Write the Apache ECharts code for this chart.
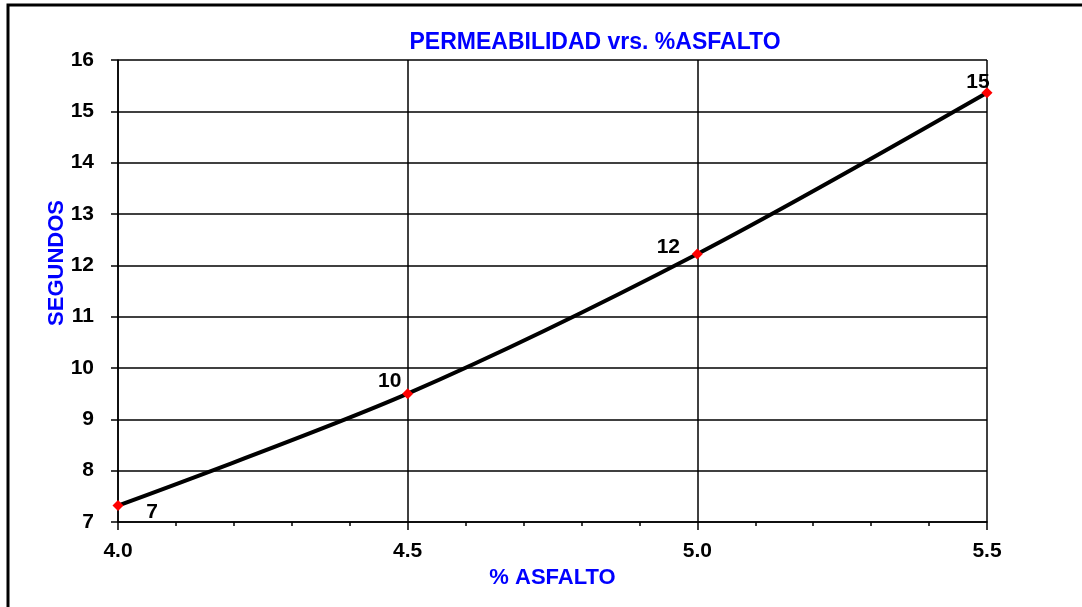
<!DOCTYPE html>
<html>
<head>
<meta charset="utf-8">
<style>
  html, body { margin: 0; padding: 0; background: #fff; }
  #chart { width: 1082px; height: 607px; }
</style>
<script src="https://cdn.jsdelivr.net/npm/echarts@6/dist/echarts.min.js"></script>
</head>
<body>
<div id="chart"></div>
<script>
// Asphalt content (%) and measured permeability time (seconds)
const asfalto = [4.0, 4.5, 5.0, 5.5];
const segundos = [7.32, 9.5, 12.22, 15.36];
const xTicks = [4.0, 4.5, 5.0, 5.5];
const yTicks = [7, 8, 9, 10, 11, 12, 13, 14, 15, 16];

const FONT = '"Liberation Sans", Arial, sans-serif';

// per-point label offsets around each marker
const labelOffsets = [[34, 7], [-18, -12], [-29, -7], [-9, -11]];

const points = asfalto.map((x, i) => ({
  value: [x, segundos[i]],
  label: {
    show: true,
    position: 'inside',
    offset: labelOffsets[i],
    formatter: p => String(Math.round(p.value[1])),
    color: '#000',
    fontFamily: FONT,
    fontSize: 21,
    fontWeight: 'bold'
  }
}));

const chart = echarts.init(document.getElementById('chart'), null, { renderer: 'canvas' });

chart.setOption({
  animation: false,
  backgroundColor: '#fff',
  title: {
    text: 'PERMEABILIDAD vrs. %ASFALTO',
    left: 590,
    textAlign: 'center',
    top: 26,
    textStyle: { color: '#0000FF', fontFamily: FONT, fontSize: 23, fontWeight: 'bold' }
  },
  graphic: [
    {
      type: 'rect',
      shape: { x: 8, y: 5, width: 1200, height: 800 },
      style: { fill: 'none', stroke: '#000', lineWidth: 3 },
      silent: true
    },
    {
      type: 'text',
      x: 57, y: 263,
      rotation: Math.PI / 2,
      style: {
        text: 'SEGUNDOS',
        fill: '#0000FF',
        font: 'bold 22px ' + FONT,
        align: 'center',
        verticalAlign: 'middle'
      }
    }
  ],
  grid: { left: 118, right: 95, top: 60, bottom: 85 },
  xAxis: {
    type: 'value',
    min: xTicks[0],
    max: xTicks[xTicks.length - 1],
    interval: 0.5,
    name: '% ASFALTO',
    nameLocation: 'middle',
    nameGap: 44,
    nameTextStyle: { color: '#0000FF', fontFamily: FONT, fontSize: 22, fontWeight: 'bold' },
    axisLine: { show: true, lineStyle: { color: '#000', width: 1.5 } },
    axisTick: { show: true, length: 8, lineStyle: { color: '#000', width: 1.5 } },
    minorTick: { show: true, splitNumber: 5, length: 4, lineStyle: { color: '#000', width: 1.5 } },
    axisLabel: {
      margin: 19,
      color: '#000',
      fontFamily: FONT,
      fontSize: 21,
      fontWeight: 'bold',
      formatter: v => v.toFixed(1)
    },
    splitLine: { show: true, lineStyle: { color: '#000', width: 1.5 } }
  },
  yAxis: {
    type: 'value',
    min: yTicks[0],
    max: yTicks[yTicks.length - 1],
    interval: 1,
    axisLine: { show: true, lineStyle: { color: '#000', width: 1.5 } },
    axisTick: { show: true, length: 7, lineStyle: { color: '#000', width: 1.5 } },
    axisLabel: {
      margin: 24,
      color: '#000',
      fontFamily: FONT,
      fontSize: 21,
      fontWeight: 'bold'
    },
    splitLine: { show: true, lineStyle: { color: '#000', width: 1.5 } }
  },
  series: [
    {
      type: 'line',
      data: points,
      smooth: 0.3,
      lineStyle: { color: '#000', width: 4 },
      symbol: 'diamond',
      symbolSize: 11,
      itemStyle: { color: '#FF0000' },
      z: 3
    }
  ]
});
</script>
</body>
</html>
